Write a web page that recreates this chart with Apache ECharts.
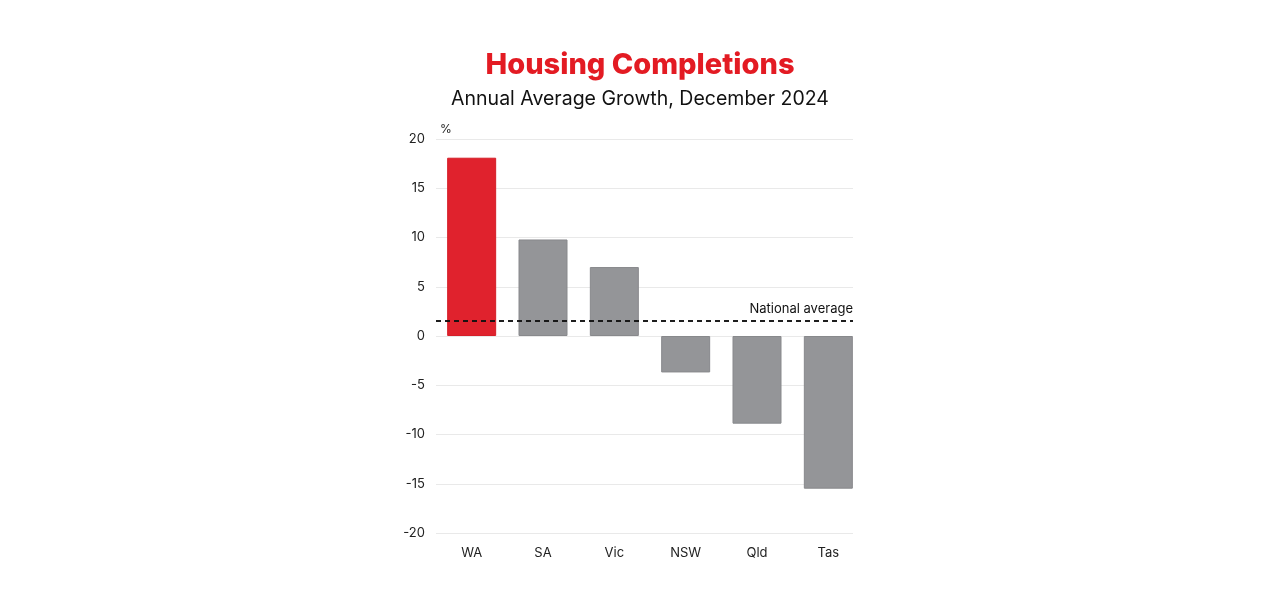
<!DOCTYPE html>
<html>
<head>
<meta charset="utf-8">
<script src="https://cdn.jsdelivr.net/npm/echarts@6/dist/echarts.min.js"></script>
<style>
  html, body { margin: 0; padding: 0; background: #fff; }
  #chart { width: 1280px; height: 600px; }
</style>
</head>
<body>
<div id="chart"></div>
<script>
// data
var states = ['WA', 'SA', 'Vic', 'NSW', 'Qld', 'Tas'];
var growth = [18.1, 9.8, 7.0, -3.7, -8.9, -15.5];
var highlight = ['WA'];
var nationalAverage = 1.5;
var yTicks = [-20, 20, 5]; // min, max, step

var RED = '#e0222d';
var GREY = '#949598';
var FONT = 'Inter, "Noto Sans", sans-serif';

var chart = echarts.init(document.getElementById('chart'));

var barData = states.map(function (s, i) {
    var hot = highlight.indexOf(s) >= 0;
    return {
        value: growth[i],
        itemStyle: {
            color: hot ? RED : GREY,
            borderColor: hot ? '#d51f29' : '#88898c',
            borderWidth: 1
        }
    };
});

chart.setOption({
    animation: false,
    textStyle: { fontFamily: FONT },
    title: [
        {
            text: 'Housing Completions',
            left: 'center',
            top: 46,
            textStyle: { color: '#e31b23', fontSize: 29, fontWeight: 800, fontFamily: FONT }
        },
        {
            text: 'Annual Average Growth, December 2024',
            left: 'center',
            top: 84,
            textStyle: { color: '#111', fontSize: 19.5, fontWeight: 400, fontFamily: FONT }
        }
    ],
    grid: [
        // bars
        { left: 436, right: 416, top: 139, bottom: 67 },
        // gridlines + national average
        { left: 436, right: 427, top: 139, bottom: 67 }
    ],
    xAxis: [
        {
            type: 'category',
            gridIndex: 0,
            data: states,
            axisLine: { show: false },
            axisTick: { show: false },
            axisLabel: { color: '#222', fontSize: 13, margin: 14 }
        },
        {
            type: 'category',
            gridIndex: 1,
            data: states,
            show: false
        }
    ],
    yAxis: [
        {
            type: 'value',
            gridIndex: 0,
            min: yTicks[0],
            max: yTicks[1],
            interval: yTicks[2],
            name: '%',
            nameLocation: 'end',
            nameGap: 4,
            nameTextStyle: { color: '#222', fontSize: 12, align: 'left', padding: [0, 0, 0, 4] },
            axisLine: { show: false },
            axisTick: { show: false },
            splitLine: { show: false },
            axisLabel: { color: '#222', fontSize: 13, margin: 11 }
        },
        {
            type: 'value',
            gridIndex: 1,
            min: yTicks[0],
            max: yTicks[1],
            interval: yTicks[2],
            axisLine: { show: false },
            axisTick: { show: false },
            axisLabel: { show: false },
            splitLine: { lineStyle: { color: '#e9e9e9', width: 1 } }
        }
    ],
    series: [
        {
            type: 'line',
            xAxisIndex: 1,
            yAxisIndex: 1,
            data: [],
            z: 1,
            markLine: {
                silent: true,
                symbol: 'none',
                lineStyle: { color: '#111', type: [5, 4], width: 1.5 },
                label: {
                    show: true,
                    position: 'insideEndTop',
                    formatter: 'National average',
                    color: '#111',
                    fontSize: 13,
                    distance: [0, 6]
                },
                data: [{ yAxis: nationalAverage }]
            }
        },
        {
            type: 'bar',
            xAxisIndex: 0,
            yAxisIndex: 0,
            barWidth: 49,
            data: barData,
            z: 2
        },
        {
            // dashed line drawn over the bars
            type: 'line',
            xAxisIndex: 1,
            yAxisIndex: 1,
            data: [],
            z: 3,
            markLine: {
                silent: true,
                symbol: 'none',
                lineStyle: { color: '#111', type: [5, 4], width: 1.5 },
                label: { show: false },
                data: [{ yAxis: nationalAverage }]
            }
        }
    ]
});
</script>
</body>
</html>
